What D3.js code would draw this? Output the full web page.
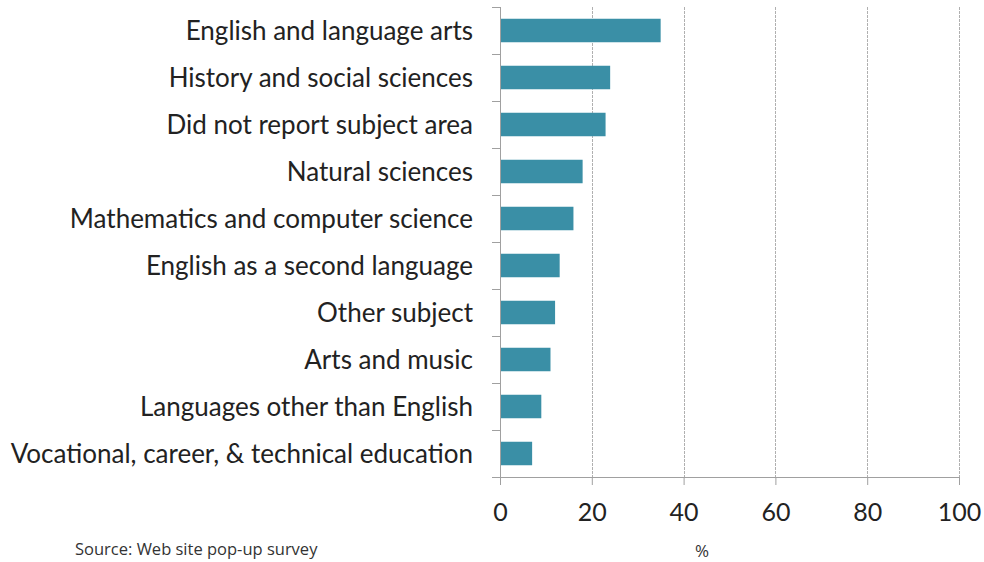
<!DOCTYPE html>
<html><head><meta charset="utf-8">
<script src="https://cdn.jsdelivr.net/npm/d3@7"></script>
<style>body{margin:0;background:#fff;} svg{display:block;}</style>
</head><body>
<svg id="chart" width="984" height="562"></svg>
<script>
const categories = ["English and language arts","History and social sciences","Did not report subject area","Natural sciences","Mathematics and computer science","English as a second language","Other subject","Arts and music","Languages other than English","Vocational, career, & technical education"];
const values = [35,24,23,18,16,13,12,11,9,7];
const xTicks = [0,20,40,60,80,100];
const xLabel = "%";
const source = "Source: Web site pop-up survey";

const svg = d3.select("#chart");
const m = {left:500, right:25, top:7, bottom:85};
const W = 984, H = 562;
const x = d3.scaleLinear().domain([0,100]).range([m.left, W - m.right]);
const y = d3.scaleBand().domain(categories).range([m.top, H - m.bottom]).paddingInner(0.5).paddingOuter(0.25);
const font = "Lato, 'Open Sans', sans-serif";

// gridlines
svg.append("g").selectAll("line").data(xTicks.slice(1)).join("line")
  .attr("x1", d=>Math.round(x(d))+0.5).attr("x2", d=>Math.round(x(d))+0.5).attr("y1", m.top).attr("y2", H-m.bottom)
  .attr("stroke","#b0b0b0").attr("stroke-width",1).attr("stroke-dasharray","3,1");

// bars
svg.append("g").selectAll("rect").data(values).join("rect")
  .attr("x", x(0)).attr("y", (d,i)=>y(categories[i]))
  .attr("width", d=>x(d)-x(0)).attr("height", y.bandwidth())
  .attr("fill","#3a8fa6");

// x axis
const xa = svg.append("g").attr("transform",`translate(0,${H-m.bottom})`)
  .call(d3.axisBottom(x).tickValues(xTicks).tickSize(8).tickPadding(18).tickSizeOuter(0));
xa.select(".domain").attr("stroke","#a0a0a0").attr("d",`M${x(0)-8},0.5H${x(100)}`);
xa.selectAll(".tick line").attr("stroke","#a0a0a0");
xa.selectAll(".tick text").attr("font-family",font).attr("font-size",25).attr("fill","#222");

// y axis
const bandEdges = categories.map(c=>y(c)-y.step()*y.paddingInner()/2).concat([H-m.bottom]);
const ya = svg.append("g");
ya.append("line").attr("x1",x(0)+0.5).attr("x2",x(0)+0.5).attr("y1",m.top).attr("y2",H-m.bottom).attr("stroke","#a0a0a0");
ya.selectAll("line.t").data(bandEdges).join("line").attr("class","t")
  .attr("x1",x(0)-8).attr("x2",x(0)).attr("y1",d=>Math.round(d)+0.5).attr("y2",d=>Math.round(d)+0.5).attr("stroke","#a0a0a0");
ya.selectAll("text").data(categories).join("text")
  .attr("x", 473).attr("y", d=>y(d)+y.bandwidth()/2).attr("dy","0.36em")
  .attr("text-anchor","end").attr("font-family",font).attr("font-size",26).attr("fill","#222")
  .text(d=>d);

svg.append("text").attr("x",702).attr("y",557).attr("text-anchor","middle")
  .attr("font-family","'Open Sans', sans-serif").attr("font-size",17).attr("fill","#333").text(xLabel);
svg.append("text").attr("x",75).attr("y",555)
  .attr("font-family","'Open Sans', sans-serif").attr("font-size",16.5).attr("fill","#333").text(source);
</script>
</body></html>
